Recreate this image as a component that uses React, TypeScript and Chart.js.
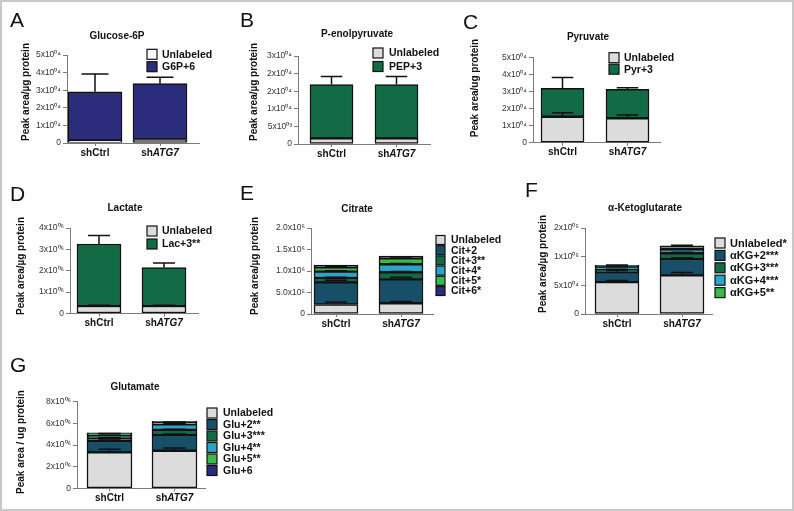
import React, { useEffect, useRef } from "react";
import { Chart, registerables } from "chart.js";
Chart.register(...registerables);

// ---------- data ----------
const CATEGORIES = ["shCtrl", "shATG7"];
const CATEGORY_ITALIC = ["", "ATG7"];

// A: Glucose-6P
const G6P_UNLABELED = [1500, 2000];
const G6P_UNLABELED_ERR = [0, 0];
const G6P_M6 = [27600, 31800];
const G6P_M6_ERR = [10100, 3500];
const A_TICKS = [0, 10000, 20000, 30000, 40000, 50000];
const A_TICK_LABELS = ["0", "1x10⁰⁴", "2x10⁰⁴", "3x10⁰⁴", "4x10⁰⁴", "5x10⁰⁴"];

// B: P-enolpyruvate
const PEP_UNLABELED = [1600, 1600];
const PEP_UNLABELED_ERR = [200, 200];
const PEP_M3 = [15300, 15300];
const PEP_M3_ERR = [2300, 2300];
const B_TICKS = [0, 5000, 10000, 15000, 20000, 25000];
const B_TICK_LABELS = ["0", "5x10⁰³", "1x10⁰⁴", "2x10⁰⁴", "2x10⁰⁴", "3x10⁰⁴"];

// C: Pyruvate
const PYR_UNLABELED = [15200, 14300];
const PYR_UNLABELED_ERR = [2300, 1900];
const PYR_M3 = [16600, 16900];
const PYR_M3_ERR = [6400, 1000];
const C_TICKS = [0, 10000, 20000, 30000, 40000, 50000];
const C_TICK_LABELS = ["0", "1x10⁰⁴", "2x10⁰⁴", "3x10⁰⁴", "4x10⁰⁴", "5x10⁰⁴"];

// D: Lactate
const LAC_UNLABELED = [350000, 350000];
const LAC_UNLABELED_ERR = [40000, 40000];
const LAC_M3 = [2900000, 1800000];
const LAC_M3_ERR = [400000, 210000];
const D_TICKS = [0, 1000000, 2000000, 3000000, 4000000];
const D_TICK_LABELS = ["0", "1x10⁰⁶", "2x10⁰⁶", "3x10⁰⁶", "4x10⁰⁶"];

// E: Citrate
const CIT_UNLABELED = [220000, 250000];
const CIT_UNLABELED_ERR = [60000, 40000];
const CIT_M2 = [517000, 557000];
const CIT_M2_ERR = [50000, 50000];
const CIT_M3 = [100000, 163000];
const CIT_M3_ERR = [20000, 20000];
const CIT_M4 = [147000, 186000];
const CIT_M4_ERR = [20000, 20000];
const CIT_M5 = [102000, 139000];
const CIT_M5_ERR = [10000, 10000];
const CIT_M6 = [50000, 50000];
const CIT_M6_ERR = [0, 0];
const E_TICKS = [0, 500000, 1000000, 1500000, 2000000];
const E_TICK_LABELS = ["0", "5.0x10⁵", "1.0x10⁶", "1.5x10⁶", "2.0x10⁶"];

// F: alpha-Ketoglutarate
const KG_UNLABELED = [55500, 67500];
const KG_UNLABELED_ERR = [3000, 5000];
const KG_M2 = [17500, 28500];
const KG_M2_ERR = [3000, 2000];
const KG_M3 = [4000, 10000];
const KG_M3_ERR = [1000, 1500];
const KG_M4 = [5500, 7000];
const KG_M4_ERR = [1000, 1000];
const KG_M5 = [2500, 6000];
const KG_M5_ERR = [500, 800];
const F_TICKS = [0, 50000, 100000, 150000];
const F_TICK_LABELS = ["0", "5x10⁰⁴", "1x10⁰⁵", "2x10⁰⁵"];

// G: Glutamate
const GLU_UNLABELED = [3330000, 3470000];
const GLU_UNLABELED_ERR = [270000, 250000];
const GLU_M2 = [1040000, 1450000];
const GLU_M2_ERR = [100000, 100000];
const GLU_M3 = [250000, 470000];
const GLU_M3_ERR = [60000, 60000];
const GLU_M4 = [240000, 520000];
const GLU_M4_ERR = [50000, 50000];
const GLU_M5 = [180000, 190000];
const GLU_M5_ERR = [30000, 30000];
const GLU_M6 = [80000, 90000];
const GLU_M6_ERR = [0, 0];
const G_TICKS = [0, 2000000, 4000000, 6000000, 8000000];
const G_TICK_LABELS = ["0", "2x10⁰⁶", "4x10⁰⁶", "6x10⁰⁶", "8x10⁰⁶"];

// ---------- styles ----------
const FONT = '"Liberation Sans", Arial, Helvetica, sans-serif';
const AXIS = "#7a7a7a";
const WHITE = "#ffffff";
const GRAY = "#dcdcdc";
const NAVY = "#2b2d7c";
const GREEN = "#136b46";
const TEAL = "#174f69";
const CYAN = "#2ca3c8";
const LGREEN = "#3db84a";

type Series = { label: string; values: number[]; errors: number[]; color: string };
type PanelCfg = {
  box: { left: number; top: number; w: number; h: number };
  plot: { left: number; right: number; top: number; bottom: number };
  c: [number, number];
  barW: number;
  letter: { t: string; x: number; y: number };
  title: { t: string; x: number; y: number };
  yTitle: { t: string; x: number; y: number };
  legend: { boxX: number; textX: number; y0: number; dy: number; size: number; font: number };
  ticks: number[];
  tickLabels: string[];
  series: Series[];
};

const PANELS: PanelCfg[] = [
  {
    box: { left: 0, top: 0, w: 240, h: 162 },
    plot: { left: 67, right: 199, top: 55, bottom: 143 },
    c: [95, 160], barW: 54,
    letter: { t: "A", x: 10, y: 27 },
    title: { t: "Glucose-6P", x: 117, y: 36 },
    yTitle: { t: "Peak area/µg protein", x: 26, y: 92 },
    legend: { boxX: 147, textX: 162, y0: 54.3, dy: 12.4, size: 10, font: 10.5 },
    ticks: A_TICKS, tickLabels: A_TICK_LABELS,
    series: [
      { label: "Unlabeled", values: G6P_UNLABELED, errors: G6P_UNLABELED_ERR, color: WHITE },
      { label: "G6P+6", values: G6P_M6, errors: G6P_M6_ERR, color: NAVY },
    ],
  },
  {
    box: { left: 238, top: 0, w: 222, h: 162 },
    plot: { left: 298, right: 430, top: 56, bottom: 144 },
    c: [331.5, 396.5], barW: 43,
    letter: { t: "B", x: 240, y: 27 },
    title: { t: "P-enolpyruvate", x: 357, y: 34 },
    yTitle: { t: "Peak area/µg protein", x: 254, y: 92 },
    legend: { boxX: 373, textX: 389, y0: 53, dy: 13.5, size: 10, font: 10.5 },
    ticks: B_TICKS, tickLabels: B_TICK_LABELS,
    series: [
      { label: "Unlabeled", values: PEP_UNLABELED, errors: PEP_UNLABELED_ERR, color: GRAY },
      { label: "PEP+3", values: PEP_M3, errors: PEP_M3_ERR, color: GREEN },
    ],
  },
  {
    box: { left: 458, top: 0, w: 334, h: 162 },
    plot: { left: 533, right: 660, top: 57.3, bottom: 142.7 },
    c: [562.5, 627.5], barW: 43,
    letter: { t: "C", x: 463, y: 29 },
    title: { t: "Pyruvate", x: 588, y: 37 },
    yTitle: { t: "Peak area/ug protein", x: 475, y: 88 },
    legend: { boxX: 609, textX: 624, y0: 57.7, dy: 11.5, size: 10, font: 10.5 },
    ticks: C_TICKS, tickLabels: C_TICK_LABELS,
    series: [
      { label: "Unlabeled", values: PYR_UNLABELED, errors: PYR_UNLABELED_ERR, color: GRAY },
      { label: "Pyr+3", values: PYR_M3, errors: PYR_M3_ERR, color: GREEN },
    ],
  },
  {
    box: { left: 0, top: 165, w: 240, h: 165 },
    plot: { left: 70, right: 198, top: 228, bottom: 313.5 },
    c: [99, 164], barW: 44,
    letter: { t: "D", x: 10, y: 201 },
    title: { t: "Lactate", x: 125, y: 208 },
    yTitle: { t: "Peak area/µg protein", x: 21, y: 266 },
    legend: { boxX: 147, textX: 162, y0: 231, dy: 13, size: 10, font: 10.5 },
    ticks: D_TICKS, tickLabels: D_TICK_LABELS,
    series: [
      { label: "Unlabeled", values: LAC_UNLABELED, errors: LAC_UNLABELED_ERR, color: GRAY },
      { label: "Lac+3**", values: LAC_M3, errors: LAC_M3_ERR, color: GREEN },
    ],
  },
  {
    box: { left: 238, top: 165, w: 284, h: 165 },
    plot: { left: 311, right: 433, top: 228, bottom: 314 },
    c: [336, 401], barW: 44,
    letter: { t: "E", x: 240, y: 200 },
    title: { t: "Citrate", x: 357, y: 209 },
    yTitle: { t: "Peak area/µg protein", x: 255, y: 266 },
    legend: { boxX: 436, textX: 451, y0: 240, dy: 10.2, size: 9, font: 10.5 },
    ticks: E_TICKS, tickLabels: E_TICK_LABELS,
    series: [
      { label: "Unlabeled", values: CIT_UNLABELED, errors: CIT_UNLABELED_ERR, color: GRAY },
      { label: "Cit+2", values: CIT_M2, errors: CIT_M2_ERR, color: TEAL },
      { label: "Cit+3**", values: CIT_M3, errors: CIT_M3_ERR, color: GREEN },
      { label: "Cit+4*", values: CIT_M4, errors: CIT_M4_ERR, color: CYAN },
      { label: "Cit+5*", values: CIT_M5, errors: CIT_M5_ERR, color: LGREEN },
      { label: "Cit+6*", values: CIT_M6, errors: CIT_M6_ERR, color: NAVY },
    ],
  },
  {
    box: { left: 522, top: 165, w: 270, h: 165 },
    plot: { left: 585, right: 712, top: 228, bottom: 314 },
    c: [617, 682], barW: 44,
    letter: { t: "F", x: 525, y: 197 },
    title: { t: "α-Ketoglutarate", x: 645, y: 208 },
    yTitle: { t: "Peak area/µg protein", x: 543, y: 264 },
    legend: { boxX: 715, textX: 730, y0: 243, dy: 12.4, size: 10, font: 11 },
    ticks: F_TICKS, tickLabels: F_TICK_LABELS,
    series: [
      { label: "Unlabeled*", values: KG_UNLABELED, errors: KG_UNLABELED_ERR, color: GRAY },
      { label: "αKG+2***", values: KG_M2, errors: KG_M2_ERR, color: TEAL },
      { label: "αKG+3***", values: KG_M3, errors: KG_M3_ERR, color: GREEN },
      { label: "αKG+4***", values: KG_M4, errors: KG_M4_ERR, color: CYAN },
      { label: "αKG+5**", values: KG_M5, errors: KG_M5_ERR, color: LGREEN },
    ],
  },
  {
    box: { left: 0, top: 330, w: 320, h: 178 },
    plot: { left: 77, right: 205, top: 401.7, bottom: 488.3 },
    c: [109.5, 174.5], barW: 45,
    letter: { t: "G", x: 10, y: 372 },
    title: { t: "Glutamate", x: 135, y: 387 },
    yTitle: { t: "Peak area / ug protein", x: 21, y: 442 },
    legend: { boxX: 207, textX: 223, y0: 413, dy: 11.5, size: 10, font: 10.5 },
    ticks: G_TICKS, tickLabels: G_TICK_LABELS,
    series: [
      { label: "Unlabeled", values: GLU_UNLABELED, errors: GLU_UNLABELED_ERR, color: GRAY },
      { label: "Glu+2**", values: GLU_M2, errors: GLU_M2_ERR, color: TEAL },
      { label: "Glu+3***", values: GLU_M3, errors: GLU_M3_ERR, color: GREEN },
      { label: "Glu+4**", values: GLU_M4, errors: GLU_M4_ERR, color: CYAN },
      { label: "Glu+5**", values: GLU_M5, errors: GLU_M5_ERR, color: LGREEN },
      { label: "Glu+6", values: GLU_M6, errors: GLU_M6_ERR, color: NAVY },
    ],
  },
];

function makeChart(canvas: HTMLCanvasElement, p: PanelCfg) {
  const ox = p.box.left;
  const oy = p.box.top;
  const spacing = p.c[1] - p.c[0];
  const xmin = -(p.c[0] - p.plot.left) / spacing;
  const xmax = 1 + (p.plot.right - p.c[1]) / spacing;

  const decor = {
    id: "decor",
    afterDatasetsDraw(chart: any) {
      const ctx = chart.ctx;
      const ys = chart.scales.y;
      ctx.save();
      ctx.strokeStyle = "#111";
      ctx.lineWidth = 1.5;
      chart.data.datasets.forEach((ds: any, di: number) => {
        const meta = chart.getDatasetMeta(di);
        meta.data.forEach((el: any, i: number) => {
          const err = ds.errors ? ds.errors[i] : 0;
          if (!err) return;
          const topVal = ys.getValueForPixel(el.y);
          const ye = ys.getPixelForValue(topVal + err);
          const half = el.width * 0.25;
          ctx.beginPath();
          ctx.moveTo(el.x, el.y);
          ctx.lineTo(el.x, ye);
          ctx.moveTo(el.x - half, ye);
          ctx.lineTo(el.x + half, ye);
          ctx.stroke();
        });
      });
      ctx.restore();
    },
    afterDraw(chart: any) {
      const ctx = chart.ctx;
      ctx.save();
      ctx.fillStyle = "#111";
      // panel letter
      ctx.font = `21px ${FONT}`;
      ctx.textAlign = "left";
      ctx.textBaseline = "alphabetic";
      ctx.fillText(p.letter.t, p.letter.x - ox, p.letter.y - oy);
      // title
      ctx.font = `bold 10px ${FONT}`;
      ctx.textAlign = "center";
      ctx.textBaseline = "middle";
      ctx.fillText(p.title.t, p.title.x - ox, p.title.y - oy);
      // y title
      ctx.save();
      ctx.translate(p.yTitle.x - ox, p.yTitle.y - oy);
      ctx.rotate(-Math.PI / 2);
      ctx.font = `bold 10px ${FONT}`;
      ctx.fillText(p.yTitle.t, 0, 0);
      ctx.restore();
      // x labels
      const xs = chart.scales.x;
      CATEGORIES.forEach((lab, i) => {
        const px = xs.getPixelForValue(i);
        const it = CATEGORY_ITALIC[i];
        const has = it && lab.endsWith(it);
        const plain = has ? lab.slice(0, lab.length - it.length) : lab;
        const ital = has ? it : "";
        ctx.font = `bold 10px ${FONT}`;
        const w1 = ctx.measureText(plain).width;
        ctx.font = `italic bold 10px ${FONT}`;
        const w2 = ital ? ctx.measureText(ital).width : 0;
        const x0 = px - (w1 + w2) / 2;
        const yy = p.plot.bottom - oy + 10;
        ctx.textAlign = "left";
        ctx.font = `bold 10px ${FONT}`;
        ctx.fillText(plain, x0, yy);
        if (ital) {
          ctx.font = `italic bold 10px ${FONT}`;
          ctx.fillText(ital, x0 + w1, yy);
        }
      });
      // legend
      const L = p.legend;
      chart.data.datasets.forEach((ds: any, di: number) => {
        const cy = L.y0 + di * L.dy - oy;
        ctx.fillStyle = ds.backgroundColor;
        ctx.fillRect(L.boxX - ox, cy - L.size / 2, L.size, L.size);
        ctx.strokeStyle = "#111";
        ctx.lineWidth = 1.2;
        ctx.strokeRect(L.boxX - ox, cy - L.size / 2, L.size, L.size);
        ctx.fillStyle = "#111";
        ctx.font = `bold ${L.font}px ${FONT}`;
        ctx.textAlign = "left";
        ctx.textBaseline = "middle";
        ctx.fillText(ds.label, L.textX - ox, cy + 0.5);
      });
      ctx.restore();
    },
  };

  return new Chart(canvas, {
    type: "bar",
    data: {
      datasets: p.series.map((s) => ({
        label: s.label,
        data: CATEGORIES.map((_, i) => ({ x: i, y: s.values[i] })),
        errors: s.errors,
        backgroundColor: s.color,
        borderColor: "#111",
        borderWidth: 1.5,
        borderSkipped: false,
        barThickness: p.barW,
      })) as any,
    },
    options: {
      animation: false,
      responsive: false,
      devicePixelRatio: 1,
      layout: {
        padding: {
          left: 0,
          top: p.plot.top - oy,
          right: ox + p.box.w - p.plot.right,
          bottom: 0,
        },
      },
      plugins: {
        legend: { display: false },
        tooltip: { enabled: false },
        title: { display: false },
      },
      scales: {
        x: {
          type: "linear",
          stacked: true,
          min: xmin,
          max: xmax,
          offset: false,
          afterBuildTicks: (s: any) => {
            s.ticks = CATEGORIES.map((_, i) => ({ value: i }));
          },
          afterFit: (s: any) => {
            s.height = oy + p.box.h - p.plot.bottom;
          },
          grid: { display: true, drawOnChartArea: false, drawTicks: true, tickLength: 3, color: AXIS, offset: false },
          border: { display: true, color: AXIS, width: 1 },
          ticks: { callback: () => "", padding: 0 },
        },
        y: {
          stacked: true,
          min: 0,
          max: p.ticks[p.ticks.length - 1],
          afterBuildTicks: (s: any) => {
            s.ticks = p.ticks.map((v) => ({ value: v }));
          },
          afterFit: (s: any) => {
            s.width = p.plot.left - ox;
          },
          grid: { display: true, drawOnChartArea: false, drawTicks: true, tickLength: 4, color: AXIS },
          border: { display: true, color: AXIS, width: 1 },
          ticks: {
            callback: (_v: any, i: number) => p.tickLabels[i],
            font: { family: FONT, size: 8.5 },
            color: "#333",
            padding: 2,
          },
        },
      },
    } as any,
    plugins: [decor],
  });
}

function Panel({ cfg }: { cfg: PanelCfg }) {
  const ref = useRef<HTMLCanvasElement | null>(null);
  useEffect(() => {
    if (!ref.current) return;
    const ch = makeChart(ref.current, cfg);
    return () => ch.destroy();
  }, [cfg]);
  return (
    <canvas
      ref={ref}
      width={cfg.box.w}
      height={cfg.box.h}
      style={{
        position: "absolute",
        left: cfg.box.left,
        top: cfg.box.top,
        width: cfg.box.w,
        height: cfg.box.h,
      }}
    />
  );
}

export default function App() {
  return (
    <div
      style={{
        position: "absolute",
        left: 0,
        top: 0,
        width: 794,
        height: 511,
        background: "#fff",
        overflow: "hidden",
      }}
    >
      {PANELS.map((p, i) => (
        <Panel key={i} cfg={p} />
      ))}
      <div
        style={{
          position: "absolute",
          left: 0,
          top: 0,
          width: 794,
          height: 511,
          border: "2px solid #c8c8c8",
          boxSizing: "border-box",
          pointerEvents: "none",
        }}
      />
    </div>
  );
}
